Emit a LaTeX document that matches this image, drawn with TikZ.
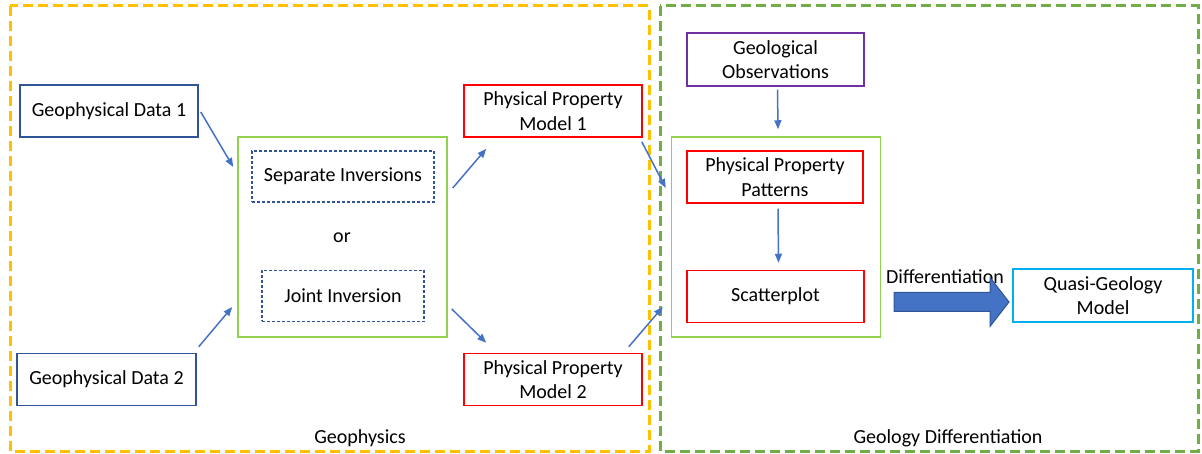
\documentclass[tikz,border=0pt]{standalone}
\usepackage{fontspec}
\setmainfont{Carlito}
\usetikzlibrary{arrows.meta}
\definecolor{boxblue}{HTML}{2F5597}
\definecolor{boxgreen}{HTML}{92D050}
\definecolor{boxred}{HTML}{FF0000}
\definecolor{boxpurple}{HTML}{7030A0}
\definecolor{boxcyan}{HTML}{00B0F0}
\definecolor{zoneyellow}{HTML}{FFC000}
\definecolor{zonegreen}{HTML}{70AD47}
\definecolor{arrowblue}{HTML}{4472C4}
\tikzset{
    every node/.style={font=\fontsize{20}{24.5}\selectfont, align=center, inner sep=0pt},
    databox/.style={draw=boxblue, line width=1.5pt, minimum height=52pt},
    modelbox/.style={draw=boxred, line width=1.5pt, minimum width=178pt, minimum height=52pt},
    groupbox/.style={draw=boxgreen, line width=1.5pt, minimum width=209pt, minimum height=200pt},
    invbox/.style={draw=boxblue, line width=1.1pt, dash pattern=on 3pt off 2pt, minimum height=51pt},
    zone/.style={line width=3pt, dash pattern=on 10pt off 5pt},
    arr/.style={draw=arrowblue, line width=1.5pt, -{Triangle[length=9pt,width=7pt]}},
    bigarrow/.style={draw=boxblue, fill=arrowblue, line width=1pt},
}

\begin{document}
\begin{tikzpicture}[x=1pt, y=-1pt]
        \useasboundingbox (0,0) rectangle (1202,454);
        \draw[zone, zoneyellow] (10,6) rectangle (649,451);
        \draw[zone, zonegreen] (660,6) rectangle (1198,451);
        \node (gphys) at (360,438) {Geophysics};
        \node (gdiff) at (948,438) {Geology Differentiation};
        \node[databox, minimum width=178pt] (gd1) at (109,111) {Geophysical Data 1};
        \node[databox, minimum width=179pt] (gd2) at (106.5,379.5) {Geophysical Data 2};
        \node[groupbox] (inv) at (342.5,237) {};
        \node[invbox, minimum width=182pt] (sep) at (343,176.5) {Separate Inversions};
        \node (or) at (342,238) {or};
        \node[invbox, minimum width=162pt] (joint) at (343,296) {Joint Inversion};
        \node[modelbox] (ppm1) at (553,111) {Physical Property\\Model 1};
        \node[modelbox] (ppm2) at (553,379.5) {Physical Property\\Model 2};
        \node[groupbox] (geo) at (776,237) {};
        \node[draw=boxpurple, line width=1.5pt, minimum width=177pt, minimum height=53pt] (obs) at (775.5,59.5) {Geological\\Observations};
        \node[modelbox, minimum width=176pt] (pat) at (775,177) {Physical Property\\Patterns};
        \node[modelbox, minimum width=177pt] (sca) at (775.5,296.5) {Scatterplot};
        \node[draw=boxcyan, line width=1.5pt, minimum width=180pt, minimum height=53pt] (quasi) at (1103,295.5) {Quasi-Geology\\Model};
        \node (diff) at (945,277) {Differentiation};
        \coordinate (d0) at (894,302);
        \coordinate (d1) at (1009,302);
        \draw[arr] ([shift={(2,1)}]gd1.east) -- ([shift={(-4,-70)}]inv.west);
        \draw[arr] ([shift={(2,-6)}]gd2.north east) -- ([shift={(-5,70)}]inv.west);
        \draw[arr] ([shift={(5,-49)}]inv.east) -- ([shift={(23,11)}]ppm1.south west);
        \draw[arr] ([shift={(4,72)}]inv.east) -- ([shift={(23,-10)}]ppm2.north west);
        \draw[arr] ([shift={(-1,4)}]ppm1.south east) -- ([shift={(-5,-49)}]geo.west);
        \draw[arr] ([shift={(-14,-6)}]ppm2.north east) -- ([shift={(-8,70)}]geo.west);
        \draw[arr] ([shift={(2,3)}]obs.south) -- ([shift={(2,-7)}]geo.north);
        \draw[arr] ([shift={(3,5)}]pat.south) -- ([shift={(3,-7)}]sca.north);
        \draw[bigarrow] ([shift={(0,-9.5)}]d0) -- ++(96,0) -- ++(0,-15) -- (d1) -- ++(-19,24.5) -- ++(0,-15) -- ([shift={(0,9.5)}]d0) -- cycle;
\end{tikzpicture}
\end{document}
